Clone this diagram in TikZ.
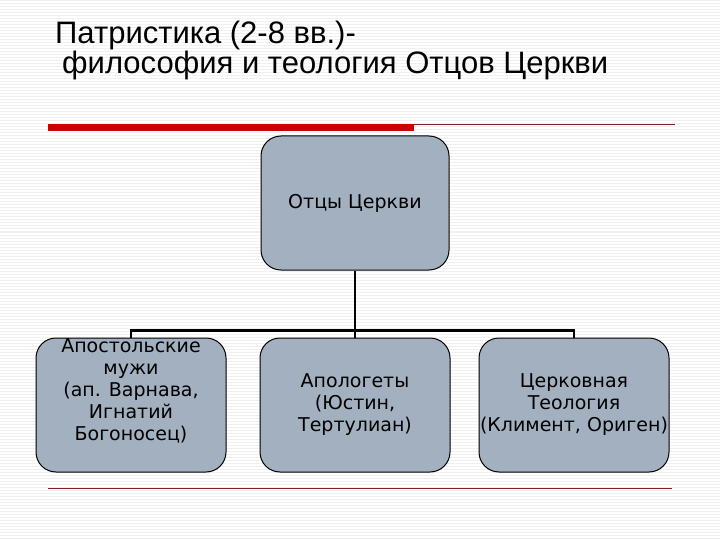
\documentclass[tikz,border=0pt]{standalone}
\usepackage{fontspec}
\setmainfont{DejaVu Sans}
\newfontfamily\titlefont{Liberation Sans}
\usetikzlibrary{positioning}
\definecolor{boxfill}{RGB}{162,176,191}
\definecolor{barred}{RGB}{204,0,0}
\definecolor{rulered}{RGB}{130,30,30}

\begin{document}
\begin{tikzpicture}[x=1pt,y=-1pt,
  box/.style={draw=black,line width=1pt,fill=boxfill,rounded corners=20pt,
    minimum width=190pt,minimum height=134pt,inner sep=0pt},
  boxtext/.style={align=center,font=\fontsize{19}{22}\selectfont},
  conn/.style={line width=2.5pt},
  stripe/.style={black!6,line width=1pt}]
\useasboundingbox (0,0) rectangle (720,540);
% ---------- background ----------
\foreach \y in {1,4,...,540} \draw[stripe] (0,\y) -- (720,\y);
% ---------- title ----------
\node[anchor=base west,inner sep=0pt,font=\titlefont\fontsize{31}{31}\selectfont] (title1) at (55,44) {Патристика (2-8 вв.)-};
\node[anchor=base west,inner sep=0pt,font=\titlefont\fontsize{31}{31}\selectfont] (title2) at (62,74) {философия и теология Отцов Церкви};
\fill[barred] (48,124) rectangle (414,131);
\draw[rulered,line width=0.8pt] (414,124) -- (675,124);
% ---------- chart ----------
\node[box,minimum width=188pt] (fathers) at (355,203) {};
\node[box,below=67pt of fathers] (apol) {};
\node[box,left=33pt of apol] (apost) {};
\node[box,right=28pt of apol] (theol) {};
\draw[conn] (fathers) -- (apol);
\draw[conn] (apost.north) -- ++(0,-7) -| (theol.north);
\node[boxtext] (fathersT) at (fathers) {Отцы Церкви};
\node[boxtext,yshift=14pt] (apostT) at (apost) {Апостольские\\мужи\\(ап. Варнава,\\Игнатий\\Богоносец)};
\node[boxtext] (apolT) at (apol) {Апологеты\\(Юстин,\\Тертулиан)};
\node[boxtext] (theolT) at (theol) {Церковная\\Теология\\(Климент, Ориген)};
\draw[rulered,line width=1pt] (48,488) -- (672,488);
\end{tikzpicture}
\end{document}
